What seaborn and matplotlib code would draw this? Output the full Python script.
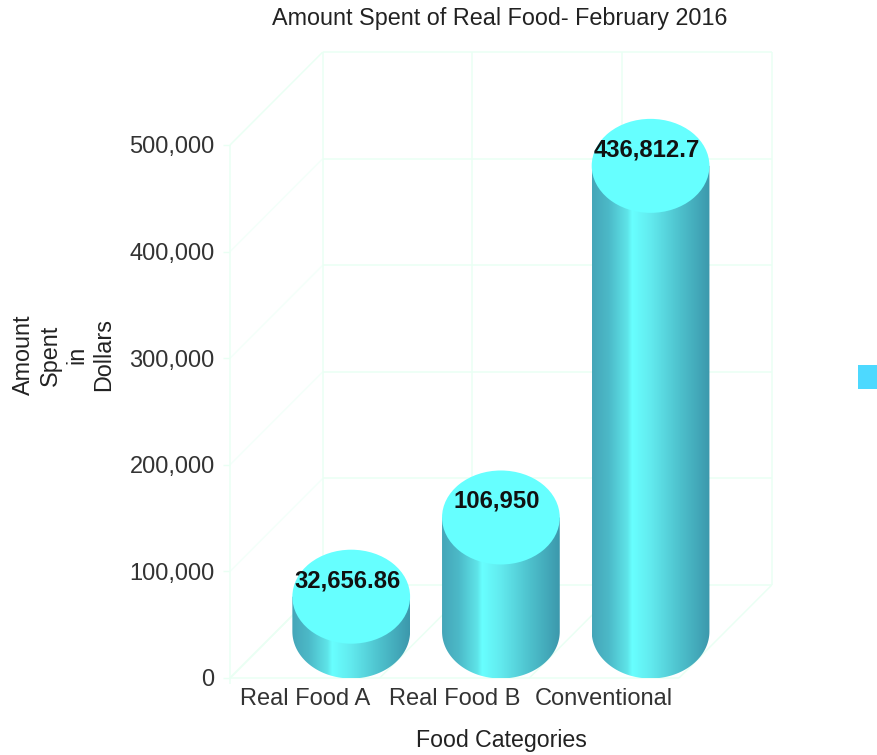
import numpy as np
import pandas as pd
import matplotlib
matplotlib.use("Agg")
import matplotlib.pyplot as plt
from matplotlib.colors import LinearSegmentedColormap
from matplotlib.patches import Ellipse, Rectangle
from matplotlib.path import Path
import seaborn as sns

categories = ["Real Food A", "Real Food B", "Conventional"]
amounts = [32656.86, 106950, 436812.7]
value_labels = ["32,656.86", "106,950", "436,812.7"]
y_ticks = [0, 100000, 200000, 300000, 400000, 500000]

GRID = "#eafff4"
GRID_SOFT = "#f4fffa"
CAP = "#66ffff"
# Shaded metal look across the cylinder body, dark edges with a bright band
body_cmap = LinearSegmentedColormap.from_list(
    "body",
    [(0.0, "#45a6b8"), (0.14, "#4cb9c8"), (0.30, "#5ee4e8"), (0.34, "#68ffff"),
     (0.5, "#62eaee"), (0.75, "#4dc0cc"), (1.0, "#3c98ac")],
)

W, H = 878, 755
sns.set_theme(style="white")
plt.rcParams["font.family"] = ["Liberation Sans", "DejaVu Sans"]

fig = plt.figure(figsize=(W / 100, H / 100), dpi=100)
ax = fig.add_axes([230 / W, 1 - 678 / H, 449 / W, 533 / H])

frame = pd.DataFrame({"category": categories, "amount": amounts})
sns.barplot(data=frame, x="category", y="amount", width=118 / 150, ax=ax, zorder=3)
ax.set_xlim(-0.5, 2.5)
ax.set_ylim(0, 500000)

# Depth of the oblique box expressed in axis units
depth_x = 93 / 150
depth_y = 93 / 533 * 500000
cap_h = 94 / 533 * 500000

# Back wall, side wall and floor of the box
edges = [-0.5, 0.5, 1.5, 2.5]
line = dict(lw=1.1, clip_on=False, zorder=1, solid_capstyle="butt")
for t in y_ticks:
    ax.plot([-0.5 + depth_x, 2.5 + depth_x], [t + depth_y] * 2, color=GRID, **line)
    ax.plot([-0.5, -0.5 + depth_x], [t, t + depth_y],
            color=GRID if t in (0, 500000) else GRID_SOFT, **line)
for e in edges:
    ax.plot([e + depth_x] * 2, [depth_y, 500000 + depth_y], color=GRID, **line)
    ax.plot([e, e + depth_x], [0, depth_y], color=GRID, **line)
ax.plot([-0.5, -0.5], [-6000, 500000], color=GRID, **line)
ax.plot([-0.5, 2.5], [0, 0], color=GRID, **line)

# Cylinders are built on the seaborn bars, pushed to mid depth
gradient = np.linspace(0, 1, 256).reshape(1, -1)
for bar, text in zip(ax.patches, value_labels):
    x0, w, v = bar.get_x() + depth_x / 2, bar.get_width(), bar.get_height()
    y0 = depth_y / 2
    bar.set_xy((x0, y0))
    bar.set_alpha(0)
    cx = x0 + w / 2
    theta = np.linspace(np.pi, 2 * np.pi, 80)
    verts = [(x0, y0 + v)] + [
        (cx + w / 2 * np.cos(a), y0 + cap_h / 2 * np.sin(a)) for a in theta
    ] + [(x0 + w, y0 + v), (x0, y0 + v)]
    outline = Path(verts, closed=True)
    img = ax.imshow(gradient, cmap=body_cmap, aspect="auto", zorder=3,
                    extent=[x0, x0 + w, y0 - cap_h / 2, y0 + v])
    # The body reaches past the axes rectangle, so only the outline may clip it
    img.set_clip_box(fig.bbox)
    img.set_clip_path(outline, transform=ax.transData)
    ax.add_patch(Ellipse((cx, y0 + v), w, cap_h, facecolor=CAP, edgecolor="none",
                         zorder=4, clip_on=False))
    ax.text(cx - 4 / 150, y0 + v + 16 / 533 * 500000, text, ha="center", va="center",
            fontsize=17.2, fontweight="bold", color="#111111", zorder=5, clip_on=False)

ax.set_xlim(-0.5, 2.5)
ax.set_ylim(0, 500000)
for s in ax.spines.values():
    s.set_visible(False)
ax.patch.set_visible(False)

ax.set_yticks(y_ticks)
ax.set_yticklabels([f"{t:,}" for t in y_ticks])
ax.tick_params(axis="y", length=5, width=1, color=GRID, labelsize=17,
               labelcolor="#333333", pad=6, left=True)
ax.tick_params(axis="x", length=0, labelsize=17, labelcolor="#333333", pad=7)

fig.text(500 / W, 1 - 18 / H, "Amount Spent of Real Food- February 2016",
         ha="center", va="center", fontsize=16.8, color="#222222")
fig.text(501 / W, 1 - 740 / H, "Food Categories", ha="center", va="center",
         fontsize=16.7, color="#222222")
fig.text(63.5 / W, 1 - 355 / H, "Amount\nSpent\nin\nDollars", rotation=90, ha="center",
         va="center", multialignment="center", fontsize=16.8, color="#222222",
         linespacing=1.2)
ax.set_xlabel("")
ax.set_ylabel("")

# Colour key swatch cut off by the right edge of the figure
fig.add_artist(Rectangle((858 / W, 1 - 389 / H), 20 / W, 24 / H,
                         transform=fig.transFigure, facecolor="#4dd9ff",
                         edgecolor="none"))

fig.savefig("out.png", dpi=100, facecolor="white")
